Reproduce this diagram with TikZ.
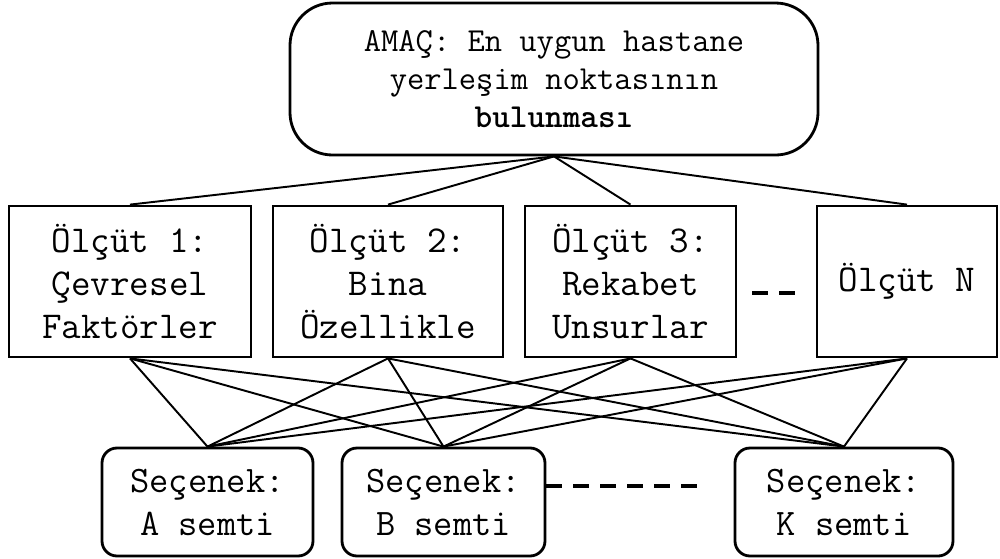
\documentclass[tikz,border=0pt]{standalone}
\usepackage{tikz}

\tikzset{
  goalbox/.style={draw, line width=1.6pt, rounded corners=0.85cm, align=center,
    minimum width=10.56cm, minimum height=3.04cm, inner sep=0pt,
    font=\ttfamily\fontsize{19.1}{21.4}\selectfont},
  critbox/.style={draw, line width=1.6pt, align=center, minimum height=3.02cm,
    inner sep=0pt, font=\ttfamily\fontsize{21.6}{24.5}\selectfont},
  optbox/.style={draw, line width=1.6pt, rounded corners=0.3cm, align=center,
    minimum height=2.16cm, inner sep=0pt, font=\ttfamily\fontsize{21.3}{24.5}\selectfont},
  link/.style={line width=1.1pt},
  gap/.style={line width=0.08cm, dash pattern=on 0.32cm off 0.22cm}
}

\begin{document}
\begin{tikzpicture}
\useasboundingbox (0,0) rectangle (20,-11.16);

% Goal
\node[goalbox] (goal) at (11.08,-1.58) {AMAÇ: En uygun hastane\\yerleşim noktasının\\\textbf{bulunması}};

% Criteria
\node[critbox, minimum width=4.84cm] (c1) at (2.60,-5.63) {Ölçüt 1:\\Çevresel\\Faktörler};
\node[critbox, minimum width=4.60cm] (c2) at (7.76,-5.63) {Ölçüt 2:\\Bina\\Özellikle};
\node[critbox, minimum width=4.22cm] (c3) at (12.61,-5.63) {Ölçüt 3:\\Rekabet\\Unsurlar};
\node[critbox, minimum width=3.60cm] (cN) at (18.14,-5.63) {Ölçüt N};

% Alternatives
\node[optbox, minimum width=4.22cm] (a) at (4.15,-10.04) {Seçenek:\\A semti};
\node[optbox, minimum width=4.06cm] (b) at (8.87,-10.04) {Seçenek:\\B semti};
\node[optbox, minimum width=4.36cm] (k) at (16.88,-10.04) {Seçenek:\\K semti};

% Goal to criteria
\foreach \c in {c1,c2,c3,cN}
  \draw[link] (goal.south) -- (\c.north);

% Criteria to alternatives
\foreach \c in {c1,c2,c3,cN}
  \foreach \o in {a,b,k}
    \draw[link] (\c.south) -- (\o.north);

% Omitted criteria and alternatives
\coordinate (dotsC1) at (15.04,-5.86);
\coordinate (dotsC2) at (15.90,-5.86);
\draw[gap] (dotsC1) -- (dotsC2);
\coordinate (dotsO) at (14.00,-9.72);
\draw[gap] (b.east |- dotsO) -- (dotsO);
\end{tikzpicture}
\end{document}
